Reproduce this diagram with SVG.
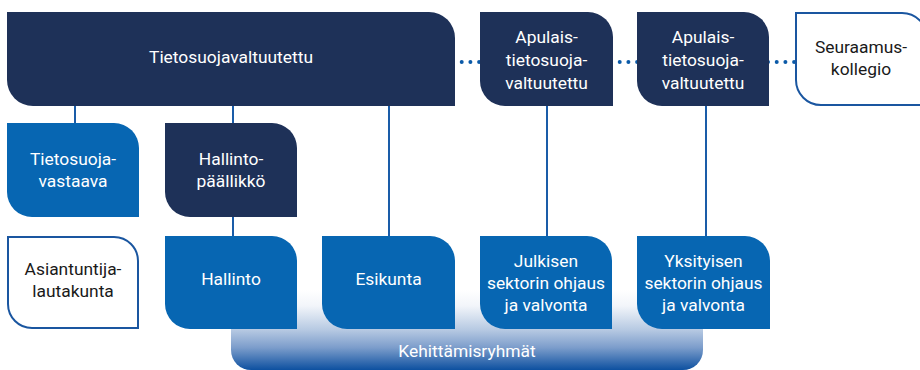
<svg xmlns="http://www.w3.org/2000/svg" width="920" height="370" viewBox="0 0 920 370">
<style>
.navy{fill:#1e3158}
.blue{fill:#0766b2}
.white{fill:#ffffff;stroke:#1a56a0;stroke-width:2}
text{font-family:Roboto,"Liberation Sans",sans-serif;font-size:17.4px;text-anchor:middle}
.lt{fill:#ffffff}
.dk{fill:#1a1a1a}
.conn{stroke:#1a5ca8;stroke-width:2;fill:none}
.dot{stroke:#0b5aa8;stroke-width:4;stroke-linecap:round;stroke-dasharray:0 8.7;fill:none}
</style>
<defs>
<linearGradient id="band" x1="0" y1="0" x2="0" y2="1">
<stop offset="0" stop-color="#ffffff"/>
<stop offset="0.2" stop-color="#f2f5fa"/>
<stop offset="0.5" stop-color="#b6c9e2"/>
<stop offset="0.72" stop-color="#7c9dcb"/>
<stop offset="1" stop-color="#0d50a0"/>
</linearGradient>
</defs>
<g id="connectors">
<line class="conn" x1="75" y1="105" x2="75" y2="124"/>
<line class="conn" x1="233" y1="105" x2="233" y2="124"/>
<line class="conn" x1="233" y1="216" x2="233" y2="237"/>
<line class="conn" x1="389" y1="105" x2="389" y2="237"/>
<line class="conn" x1="547" y1="105" x2="547" y2="237"/>
<line class="conn" x1="706" y1="105" x2="706" y2="237"/>
<line class="dot" x1="453" y1="62" x2="480" y2="62"/>
<line class="dot" x1="611" y1="62" x2="638" y2="62"/>
<line class="dot" x1="768" y1="62" x2="795" y2="62"/>
</g>
<g id="n-kehittamisryhmat">
<path fill="url(#band)" d="M231,290 H703 V350 A20,20 0 0 1 683,370 H251 A20,20 0 0 1 231,350 Z"/>
<text class="lt" x="467" y="357">Kehittämisryhmät</text>
</g>
<g id="n-tietosuojavaltuutettu">
<path class="navy" d="M7,12 H429 A26,26 0 0 1 455,38 V106 H33 A26,26 0 0 1 7,80 Z"/>
<text class="lt" x="231" y="63">Tietosuojavaltuutettu</text>
</g>
<g id="n-apulais1">
<path class="navy" d="M480,12 H588 A25,25 0 0 1 613,37 V106 H505 A25,25 0 0 1 480,81 Z"/>
<text class="lt" x="546.5" y="43">Apulais-</text>
<text class="lt" x="546.5" y="66">tietosuoja-</text>
<text class="lt" x="546.5" y="89">valtuutettu</text>
</g>
<g id="n-apulais2">
<path class="navy" d="M637,12 H744 A25,25 0 0 1 769,37 V106 H662 A25,25 0 0 1 637,81 Z"/>
<text class="lt" x="703" y="43">Apulais-</text>
<text class="lt" x="703" y="66">tietosuoja-</text>
<text class="lt" x="703" y="89">valtuutettu</text>
</g>
<g id="n-seuraamus">
<path class="white" d="M796,13 H902 A25,25 0 0 1 927,38 V105 H821 A25,25 0 0 1 796,80 Z"/>
<text class="dk" x="861" y="53">Seuraamus-</text>
<text class="dk" x="861" y="75">kollegio</text>
</g>
<g id="n-tietosuojavastaava">
<path class="blue" d="M7,123 H114 A25,25 0 0 1 139,148 V217 H32 A25,25 0 0 1 7,192 Z"/>
<text class="lt" x="73" y="165">Tietosuoja-</text>
<text class="lt" x="73" y="187">vastaava</text>
</g>
<g id="n-hallintopaallikko">
<path class="navy" d="M165,123 H272 A25,25 0 0 1 297,148 V217 H190 A25,25 0 0 1 165,192 Z"/>
<text class="lt" x="231" y="165">Hallinto-</text>
<text class="lt" x="231" y="187">päällikkö</text>
</g>
<g id="n-asiantuntijalautakunta">
<path class="white" d="M8,237 H114 A24,24 0 0 1 138,261 V328 H32 A24,24 0 0 1 8,304 Z"/>
<text class="dk" x="73" y="275">Asiantuntija-</text>
<text class="dk" x="73" y="297">lautakunta</text>
</g>
<g id="n-hallinto">
<path class="blue" d="M165,236 H272 A25,25 0 0 1 297,261 V329 H190 A25,25 0 0 1 165,304 Z"/>
<text class="lt" x="231" y="285">Hallinto</text>
</g>
<g id="n-esikunta">
<path class="blue" d="M322,236 H430 A25,25 0 0 1 455,261 V329 H347 A25,25 0 0 1 322,304 Z"/>
<text class="lt" x="388.5" y="285">Esikunta</text>
</g>
<g id="n-julkisen">
<path class="blue" d="M480,236 H587 A25,25 0 0 1 612,261 V329 H505 A25,25 0 0 1 480,304 Z"/>
<text class="lt" x="546" y="267">Julkisen</text>
<text class="lt" x="546" y="289">sektorin ohjaus</text>
<text class="lt" x="546" y="311">ja valvonta</text>
</g>
<g id="n-yksityisen">
<path class="blue" d="M637,236 H745 A25,25 0 0 1 770,261 V329 H662 A25,25 0 0 1 637,304 Z"/>
<text class="lt" x="703.5" y="267">Yksityisen</text>
<text class="lt" x="703.5" y="289">sektorin ohjaus</text>
<text class="lt" x="703.5" y="311">ja valvonta</text>
</g>
</svg>
